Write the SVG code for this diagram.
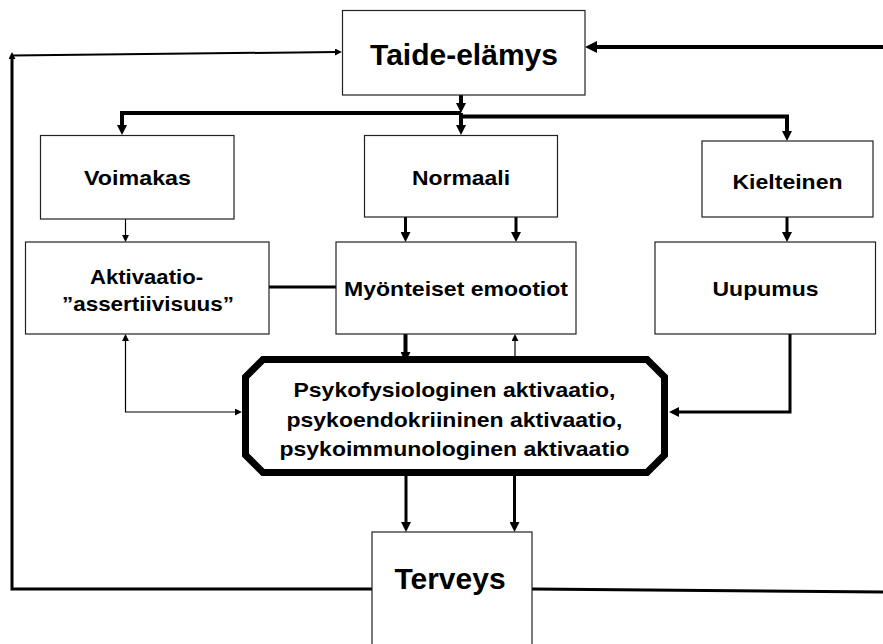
<svg xmlns="http://www.w3.org/2000/svg" width="883" height="644" viewBox="0 0 883 644">
<style>
.box{fill:#fff;stroke:#222;stroke-width:1.2}
.lbl{font-family:"Liberation Sans",Arial,sans-serif;font-weight:bold;font-size:20.5px;fill:#000;text-anchor:middle}
.big{font-size:30px}
.c{fill:none;stroke:#000;stroke-linejoin:miter}
.w1{stroke-width:1.2}
.w2{stroke-width:2}
.w3{stroke-width:3}
.w4{stroke-width:4}
</style>
<defs>
<marker id="ab" viewBox="0 0 10 10" refX="3" refY="5" markerWidth="10" markerHeight="10" markerUnits="userSpaceOnUse" orient="auto-start-reverse"><path d="M0,0 L10,5 L0,10 z" fill="#000"/></marker>
<marker id="as" viewBox="0 0 10 10" refX="3" refY="5" markerWidth="7" markerHeight="7" markerUnits="userSpaceOnUse" orient="auto-start-reverse"><path d="M0,0 L10,5 L0,10 z" fill="#000"/></marker>
<marker id="ah" viewBox="0 0 10 10" refX="3" refY="5" markerWidth="12" markerHeight="12" markerUnits="userSpaceOnUse" orient="auto-start-reverse"><path d="M0,0 L10,5 L0,10 z" fill="#000"/></marker>
</defs>
<rect width="883" height="644" fill="#fff"/>
<g id="connectors">
  <path class="c w3" d="M372,589 H12 V57" marker-end="url(#as)"/>
  <path class="c w2" d="M12,55.5 L337,52" marker-end="url(#as)"/>
  <path class="c w3" d="M532,589 L883,592"/>
  <path class="c w4" d="M883,47 H593.4" marker-end="url(#ah)"/>
  <path class="c w4" d="M461,95 V106" marker-end="url(#ab)"/>
  <path class="c w4" d="M461,113 V128" marker-end="url(#ab)"/>
  <path class="c w4" d="M461,113 H122 V128" marker-end="url(#ab)"/>
  <path class="c w4" d="M461,116.5 H787 V134" marker-end="url(#ab)"/>
  <path class="c w1" d="M125.5,219 V237" marker-end="url(#as)"/>
  <path class="c w3" d="M405.5,217 V235" marker-end="url(#ab)"/>
  <path class="c w3" d="M516,217 V235" marker-end="url(#ab)"/>
  <path class="c w3" d="M787,217 V235" marker-end="url(#ab)"/>
  <path class="c w3" d="M269,287 H336"/>
  <path class="c w4" d="M405.5,334 V355" marker-end="url(#ab)"/>
  <path class="c w1" d="M515,356 V339" marker-end="url(#as)"/>
  <path class="c w1" d="M125.5,339 V412 H237" marker-start="url(#as)" marker-end="url(#as)"/>
  <path class="c w3" d="M790,334 V412 H676" marker-end="url(#ab)"/>
  <path class="c w3" d="M406,476 V525" marker-end="url(#ab)"/>
  <path class="c w3" d="M514.5,476 V525" marker-end="url(#ab)"/>
</g>
<g id="taide-elamys">
  <rect class="box" x="342.5" y="10.5" width="242.5" height="84.5"/>
  <text class="lbl big" x="464" y="64.5">Taide-elämys</text>
</g>
<g id="voimakas">
  <rect class="box" x="40.5" y="135.5" width="193.5" height="83.5"/>
  <text class="lbl" x="137.5" y="185" textLength="107" lengthAdjust="spacingAndGlyphs">Voimakas</text>
</g>
<g id="normaali">
  <rect class="box" x="364.5" y="135.5" width="193" height="81.5"/>
  <text class="lbl" x="461" y="184.5" textLength="98" lengthAdjust="spacingAndGlyphs">Normaali</text>
</g>
<g id="kielteinen">
  <rect class="box" x="702" y="141" width="171" height="76"/>
  <text class="lbl" x="787.5" y="188.5" textLength="110" lengthAdjust="spacingAndGlyphs">Kielteinen</text>
</g>
<g id="aktivaatio">
  <rect class="box" x="25.5" y="242" width="243.5" height="92"/>
  <text class="lbl" x="146.5" y="283.5" textLength="113" lengthAdjust="spacingAndGlyphs">Aktivaatio-</text>
  <text class="lbl" x="148" y="311" textLength="172" lengthAdjust="spacingAndGlyphs">”assertiivisuus”</text>
</g>
<g id="myonteiset">
  <rect class="box" x="336" y="242" width="240" height="92"/>
  <text class="lbl" x="456" y="296" textLength="224" lengthAdjust="spacingAndGlyphs">Myönteiset emootiot</text>
</g>
<g id="uupumus">
  <rect class="box" x="655" y="242" width="220.5" height="92"/>
  <text class="lbl" x="765.5" y="296" textLength="106" lengthAdjust="spacingAndGlyphs">Uupumus</text>
</g>
<g id="aktivaatio-keskus">
  <polygon points="263,359.5 647,359.5 664.5,377 664.5,455 647,472.5 263,472.5 245.5,455 245.5,377" fill="#fff" stroke="#000" stroke-width="7"/>
  <text class="lbl" x="454.5" y="397" textLength="322" lengthAdjust="spacingAndGlyphs">Psykofysiologinen aktivaatio,</text>
  <text class="lbl" x="454.5" y="427" textLength="336" lengthAdjust="spacingAndGlyphs">psykoendokriininen aktivaatio,</text>
  <text class="lbl" x="454.5" y="456" textLength="350" lengthAdjust="spacingAndGlyphs">psykoimmunologinen aktivaatio</text>
</g>
<g id="terveys">
  <rect class="box" x="372" y="532" width="160" height="120"/>
  <text class="lbl big" x="450" y="589">Terveys</text>
</g>
</svg>
